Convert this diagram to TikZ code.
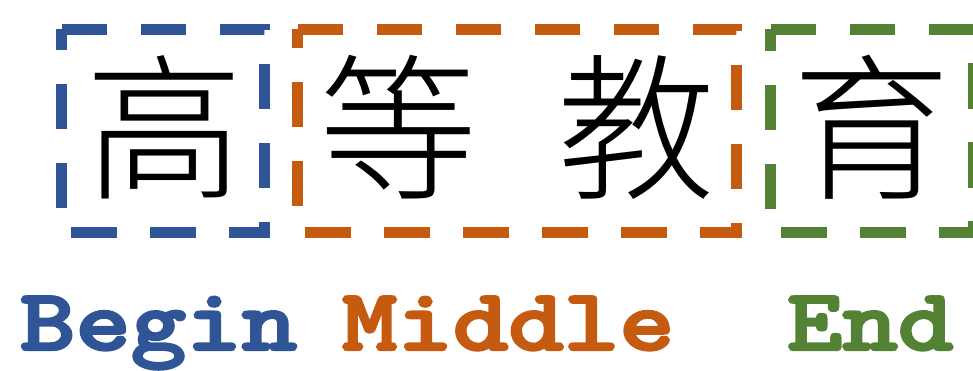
\documentclass[tikz,border=0pt]{standalone}
\usepackage{fontspec}
\newfontfamily\cjk{Noto Sans CJK SC Light}
\newfontfamily\monob{lmmonolt10-bold.otf}[FakeBold=2.6]
\definecolor{cblue}{HTML}{2F5597}
\definecolor{corange}{HTML}{C55A11}
\definecolor{cgreen}{HTML}{548235}
\begin{document}
\begin{tikzpicture}[x=1pt,y=-1pt,
  frame/.style={inner sep=0pt,outer sep=0pt},
  dbox/.style={line width=11pt,dash pattern=on 45.5pt off 33.5pt,line cap=butt,line join=miter},
  hanzi/.style={inner sep=0pt,outer sep=0pt,anchor=base,font=\cjk\fontsize{158}{160}\selectfont},
  label/.style={inner sep=0pt,outer sep=0pt,anchor=base west,xscale=1.2,font=\monob\fontsize{88}{90}\selectfont}]
\useasboundingbox (0,0) rectangle (973,370);
% frames
\node[frame,minimum width=202.5pt,minimum height=203pt] (fb) at (162.75,130.5) {};
\node[frame,minimum width=438.5pt,minimum height=203pt] (fm) at (516.75,130.5) {};
\node[frame,minimum width=203pt,minimum height=203pt] (fe) at (872,130.5) {};
\draw[dbox,cblue] (fb.north west) -- (fb.north east) -- (fb.south east) -- (fb.south west) -- cycle;
\draw[dbox,corange] (fm.north west) -- (fm.north east) -- (fm.south east) -- (fm.south west) -- cycle;
\draw[dbox,cgreen] (fe.north west) -- (fe.north east) -- (fe.south east) -- (fe.south west) -- cycle;
% characters
\node[hanzi] (c1) at (164,187) {高};
\node[hanzi] (c2) at (398,187) {等};
\node[hanzi] (c3) at (636,187) {教};
\node[hanzi] (c4) at (871,187) {育};
% labels
\node[label,text=cblue] (lb) at (20,350) {Begin};
\node[label,text=corange] (lm) at (342,350) {Middle};
\node[label,text=cgreen] (le) at (787,350) {End};
\end{tikzpicture}
\end{document}
